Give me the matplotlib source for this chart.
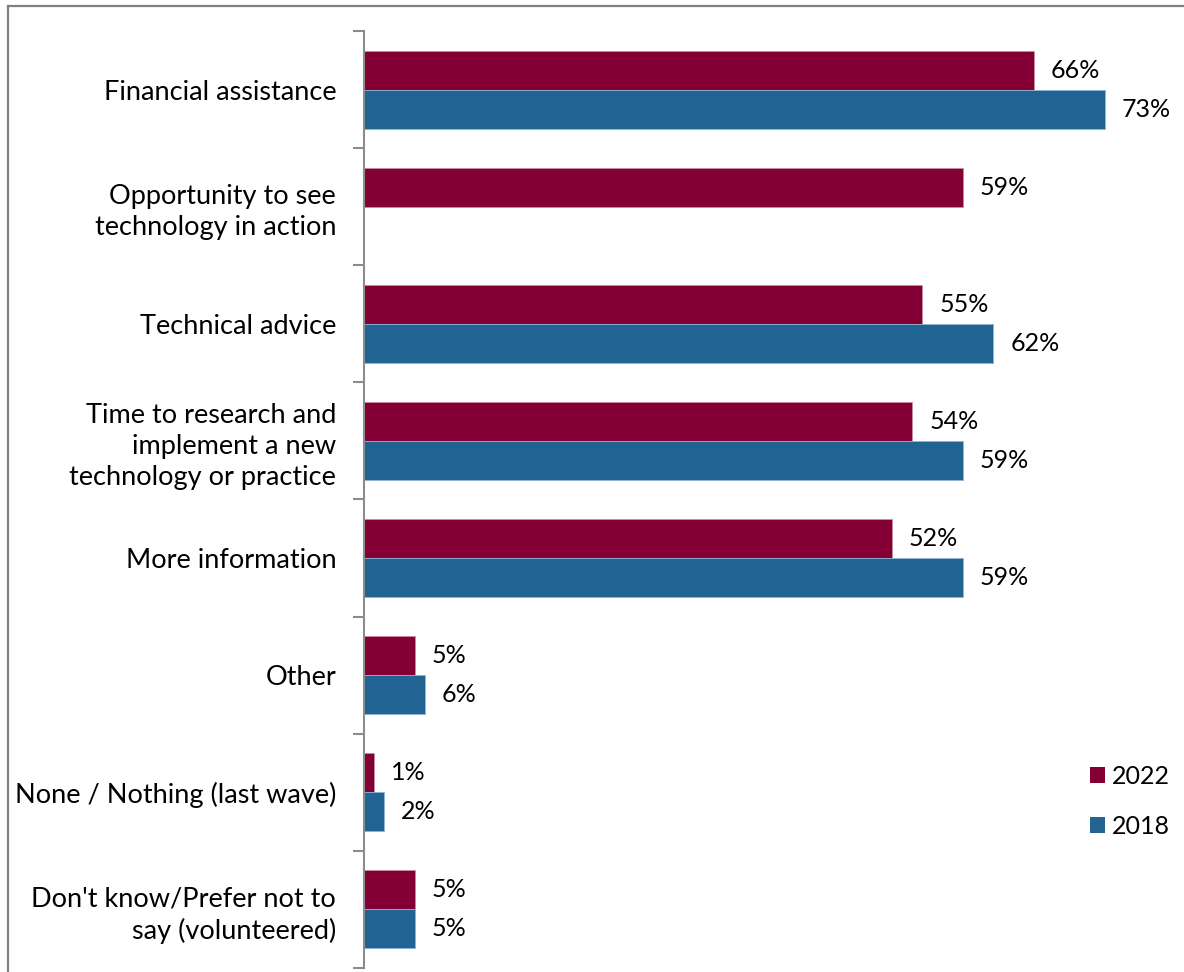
import numpy as np
import matplotlib
matplotlib.use("Agg")
import matplotlib.pyplot as plt
from matplotlib.lines import Line2D
from matplotlib.patches import Patch

categories = [
    "Financial assistance",
    "Opportunity to see\ntechnology in action",
    "Technical advice",
    "Time to research and\nimplement a new\ntechnology or practice",
    "More information",
    "Other",
    "None / Nothing (last wave)",
    "Don't know/Prefer not to\nsay (volunteered)",
]
values_2022 = [66, 59, 55, 54, 52, 5, 1, 5]
values_2018 = [73, np.nan, 62, 59, 59, 6, 2, 5]
series_names = ["2022", "2018"]
colors = ["#840034", "#216494"]

plt.rcParams['font.family'] = ['Lato', 'DejaVu Sans']

W, H = 1184, 972
fig = plt.figure(figsize=(W / 100, H / 100), dpi=100)
ax = fig.add_axes([364 / W, 1 - 968 / H, (1176 - 364) / W, (968 - 31) / H])

n = len(categories)
y = np.arange(n)
bh = 1 / 3
ax.barh(y - bh / 2, values_2022, height=bh, color=colors[0], edgecolor="#c98aa3", linewidth=0.6)
ax.barh(y + bh / 2, values_2018, height=bh, color=colors[1], edgecolor="#8fb4d3", linewidth=0.6)

fs = 18
for i in range(n):
    for v, off in ((values_2022[i], -bh / 2), (values_2018[i], bh / 2)):
        if not np.isnan(v):
            ax.annotate(f"{v:.0f}%", (v, y[i] + off), xytext=(17, 0), textcoords="offset pixels",
                        va="center", ha="left", fontsize=fs, color="black")

ax.set_ylim(n - 0.5, -0.5)
ax.set_xlim(0, 80)
ax.set_yticks(np.arange(n + 1) - 0.5, minor=False)
ax.set_yticklabels([])
ax.set_yticks(y, minor=True)
ax.set_yticklabels(categories, minor=True, fontsize=19.5, ha="right", multialignment="right",
                   linespacing=1.3)
ax.tick_params(axis="y", which="minor", length=0, pad=20)
ax.tick_params(axis="y", which="major", length=8, width=1.5, color="#8c8c8c")
ax.set_xticks([])
for s in ("top", "right", "bottom"):
    ax.spines[s].set_visible(False)
ax.spines["left"].set_color("#8c8c8c")
ax.spines["left"].set_linewidth(1.5)

handles = [Patch(facecolor=colors[0]), Patch(facecolor=colors[1])]
fig.legend(handles, series_names, loc="upper left", bbox_to_anchor=(1067 / W, 1 - 742 / H),
           frameon=False, fontsize=fs, handlelength=0.6, handleheight=0.6, handletextpad=0.3,
           labelspacing=1.1)

fig.add_artist(Line2D([7.5 / W, 1], [1 - 6.5 / H, 1 - 6.5 / H], transform=fig.transFigure,
                      color="#808080", linewidth=1.6))
fig.add_artist(Line2D([7.5 / W, 7.5 / W], [0, 1 - 6.5 / H], transform=fig.transFigure,
                      color="#808080", linewidth=1.6))

fig.savefig("out.png", dpi=100)
